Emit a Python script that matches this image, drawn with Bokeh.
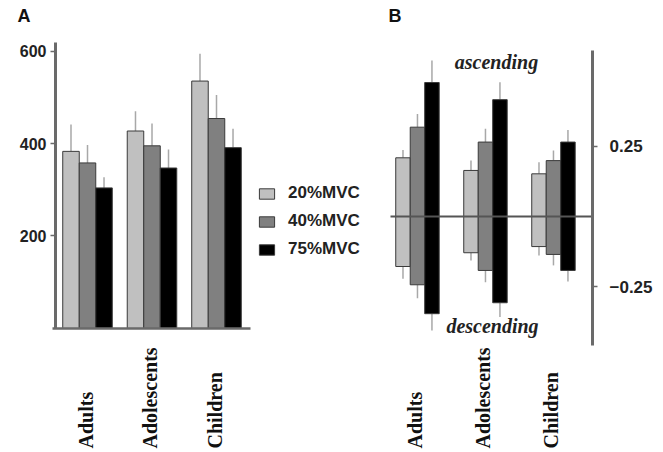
import numpy as np
from math import pi
from bokeh.plotting import figure
from bokeh.models import (ColumnDataSource, Legend, LegendItem, LabelSet, Label,
                          FixedTicker, Range1d, LinearAxis)
from bokeh.embed import file_html
from bokeh.resources import INLINE

# ---------------- data ----------------
groups = ["Adults", "Adolescents", "Children"]
series = ["20%MVC", "40%MVC", "75%MVC"]
colors = ["#c0c0c0", "#808080", "#000000"]

# Panel A: mean values and SD (upward error only)
a_20 = [383, 427, 535]
a_40 = [358, 395, 454]
a_75 = [304, 347, 391]
a_20_err = [58, 43, 59]
a_40_err = [39, 48, 51]
a_75_err = [23, 40, 41]

# Panel B: ascending (positive) and descending (negative) parts
b_asc_20 = [0.209, 0.164, 0.152]
b_asc_40 = [0.318, 0.265, 0.199]
b_asc_75 = [0.477, 0.416, 0.265]
b_desc_20 = [-0.178, -0.129, -0.107]
b_desc_40 = [-0.243, -0.192, -0.135]
b_desc_75 = [-0.346, -0.307, -0.192]
b_asc_err_20 = [0.028, 0.035, 0.041]
b_asc_err_40 = [0.047, 0.047, 0.036]
b_asc_err_75 = [0.078, 0.062, 0.043]
b_desc_err_20 = [0.044, 0.028, 0.032]
b_desc_err_40 = [0.048, 0.042, 0.039]
b_desc_err_75 = [0.060, 0.051, 0.039]

a_ticks = [200, 400, 600]
b_ticks = [-0.25, 0.25]

SANS = "Liberation Sans"
SERIF = "Liberation Serif"
AXIS_COL = "#6a6a6a"
ERR_COL = "#a8a8a8"
EDGE_COL = "#3a3a3a"

W, H = 660, 450
p = figure(width=W, height=H,
           x_range=Range1d(-1.349, 8.884), y_range=Range1d(-263.8, 709.2),
           output_backend="svg", toolbar_location=None, title=None,
           min_border_left=0, min_border_right=0, min_border_top=0,
           min_border_bottom=0)
p.extra_x_ranges = {"b": Range1d(-6.132, 3.574)}
p.extra_y_ranges = {"b": Range1d(-0.833, 0.769)}
p.outline_line_color = None
p.grid.visible = False

idx = np.arange(len(groups))

# ---------------- Panel A ----------------
wA = 0.256
a_vals = [a_20, a_40, a_75]
a_errs = [a_20_err, a_40_err, a_75_err]
legend_items = []
for j in range(3):
    xs = idx + (j - 1) * wA
    top = np.array(a_vals[j])
    src = ColumnDataSource(dict(x=xs, top=top, etop=top + np.array(a_errs[j])))
    p.segment(x0="x", y0="top", x1="x", y1="etop", source=src,
              line_color=ERR_COL, line_width=1.5)
    r = p.vbar(x="x", top="top", bottom=0, width=wA, source=src,
               fill_color=colors[j], line_color=EDGE_COL, line_width=1)
    legend_items.append(LegendItem(label=series[j], renderers=[r]))

p.yaxis.fixed_location = -0.496
p.yaxis.ticker = FixedTicker(ticks=a_ticks)
p.yaxis.bounds = (0, 618)
p.yaxis.minor_tick_line_color = None
p.yaxis.major_tick_in = 0
p.yaxis.major_tick_out = 5
p.yaxis.major_tick_line_color = AXIS_COL
p.yaxis.major_tick_line_width = 1.5
p.yaxis.axis_line_color = AXIS_COL
p.yaxis.axis_line_width = 3
p.yaxis.major_label_standoff = 4
p.yaxis.major_label_text_font = SANS
p.yaxis.major_label_text_font_style = "bold"
p.yaxis.major_label_text_font_size = "16px"
p.yaxis.major_label_text_color = "#222222"

p.xaxis.ticker = FixedTicker(ticks=[])
p.xaxis.fixed_location = 0
p.xaxis.bounds = (-0.543, 2.527)
p.xaxis.major_label_text_font_size = "0px"
p.xaxis.major_tick_line_color = None
p.xaxis.minor_tick_line_color = None
p.xaxis.axis_line_color = AXIS_COL
p.xaxis.axis_line_width = 2.5

legend = Legend(items=legend_items, location=(257, 191), orientation="vertical",
                glyph_width=19, glyph_height=13, label_height=20, spacing=8,
                label_standoff=12, padding=0, margin=0,
                border_line_color=None, background_fill_alpha=0,
                label_text_font=SANS, label_text_font_style="bold",
                label_text_font_size="17px", label_text_color="#222222")
p.add_layout(legend)

catA = ColumnDataSource(dict(x=idx, text=groups))
p.add_layout(LabelSet(x="x", y=2, y_units="screen", text="text", source=catA,
                      angle=pi / 2, text_align="left", text_baseline="middle",
                      x_offset=-2, text_font=SERIF, text_font_style="bold",
                      text_font_size="20px", text_color="#111111"))
p.add_layout(Label(x=17, y=H - 5, x_units="screen", y_units="screen", text="A",
                   text_align="left", text_baseline="top", text_font=SANS,
                   text_font_style="bold", text_font_size="18px",
                   text_color="#111111"))

# ---------------- Panel B ----------------
wB = 0.213
b_asc = [b_asc_20, b_asc_40, b_asc_75]
b_desc = [b_desc_20, b_desc_40, b_desc_75]
b_asc_err = [b_asc_err_20, b_asc_err_40, b_asc_err_75]
b_desc_err = [b_desc_err_20, b_desc_err_40, b_desc_err_75]
for j in range(3):
    xs = idx + (j - 1) * wB
    top = np.array(b_asc[j])
    bot = np.array(b_desc[j])
    src = ColumnDataSource(dict(x=xs, top=top, bot=bot,
                                etop=top + np.array(b_asc_err[j]),
                                ebot=bot - np.array(b_desc_err[j])))
    p.segment(x0="x", y0="top", x1="x", y1="etop", source=src,
              line_color=ERR_COL, line_width=1.5,
              x_range_name="b", y_range_name="b")
    p.segment(x0="x", y0="bot", x1="x", y1="ebot", source=src,
              line_color=ERR_COL, line_width=1.5,
              x_range_name="b", y_range_name="b")
    p.vbar(x="x", top="top", bottom="bot", width=wB, source=src,
           fill_color=colors[j], line_color=EDGE_COL, line_width=1,
           x_range_name="b", y_range_name="b")

# zero line of panel B
zero_axis = LinearAxis(x_range_name="b", y_range_name="b", fixed_location=0,
                       bounds=(-0.397, 2.574), ticker=FixedTicker(ticks=[]),
                       major_label_text_font_size="0px",
                       major_tick_line_color=None, minor_tick_line_color=None,
                       axis_line_color="#555555", axis_line_width=2)
p.add_layout(zero_axis, "below")

b_axis = LinearAxis(x_range_name="b", y_range_name="b", fixed_location=2.574,
                    bounds=(-0.459, 0.591), ticker=FixedTicker(ticks=b_ticks))
b_axis.minor_tick_line_color = None
b_axis.major_tick_in = 0
b_axis.major_tick_out = 5
b_axis.major_tick_line_color = AXIS_COL
b_axis.major_tick_line_width = 1.5
b_axis.axis_line_color = AXIS_COL
b_axis.axis_line_width = 3
b_axis.major_label_standoff = 12
b_axis.major_label_text_font = SANS
b_axis.major_label_text_font_style = "bold"
b_axis.major_label_text_font_size = "17px"
b_axis.major_label_text_color = "#222222"
p.add_layout(b_axis, "right")

catB = ColumnDataSource(dict(x=idx, text=groups))
p.add_layout(LabelSet(x="x", y=2, y_units="screen", text="text", source=catB,
                      x_range_name="b", angle=pi / 2, text_align="left",
                      text_baseline="middle", x_offset=-2, text_font=SERIF,
                      text_font_style="bold", text_font_size="20px",
                      text_color="#111111"))
p.add_layout(Label(x=496, y=H - 61, x_units="screen", y_units="screen",
                   text="ascending", text_align="center", text_baseline="middle",
                   text_font=SERIF, text_font_style="bold italic",
                   text_font_size="20px", text_color="#222222"))
p.add_layout(Label(x=492, y=H - 325, x_units="screen", y_units="screen",
                   text="descending", text_align="center", text_baseline="middle",
                   text_font=SERIF, text_font_style="bold italic",
                   text_font_size="20px", text_color="#222222"))
p.add_layout(Label(x=388, y=H - 5, x_units="screen", y_units="screen", text="B",
                   text_align="left", text_baseline="top", text_font=SANS,
                   text_font_style="bold", text_font_size="18px",
                   text_color="#111111"))

open("out.html", "w").write(file_html(p, INLINE))
